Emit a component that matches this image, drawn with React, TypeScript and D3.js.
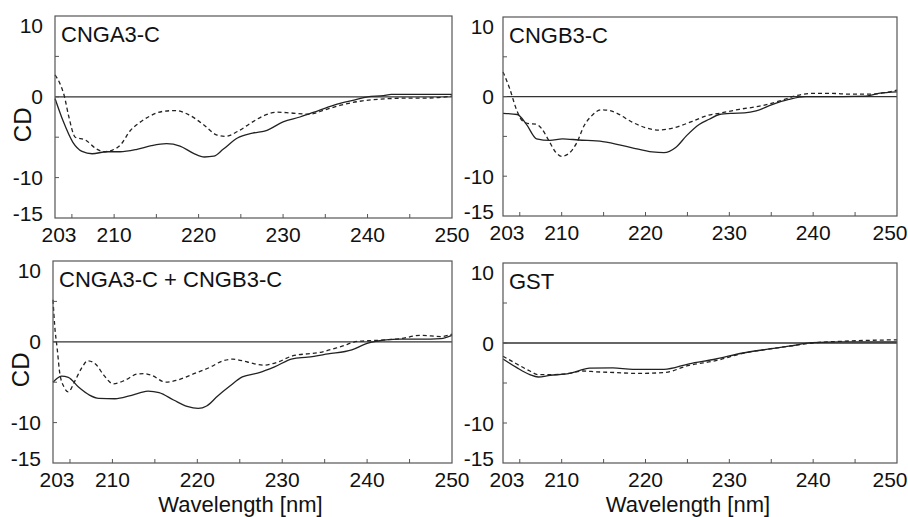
import React from "react";
import * as d3 from "d3";

type Pt = [number, number];

// wavelength [nm], CD
const cnga3Solid: Pt[] = [
  [203, -0.2], [204, -3.1], [205.1, -5.6], [206.2, -6.75], [207.4, -7.05], [209.1, -6.8],
  [210.7, -6.8], [212.7, -6.5], [214.4, -6.05], [216.2, -5.8], [217.8, -6.1], [219.4, -7.0],
  [220.7, -7.45], [221.8, -7.35], [222.9, -6.5], [224.6, -5.1], [226.4, -4.5], [228.1, -4.15],
  [230, -3.1], [232, -2.5], [234.2, -1.7], [236.4, -0.9], [238.4, -0.4], [240, 0],
  [241.9, 0.15], [242.8, 0.3], [246, 0.3], [250, 0.3],
];
const cnga3Dash: Pt[] = [
  [203, 2.7], [203.6, 1.6], [204.1, 0.1], [204.6, -2.3], [205.4, -5.0], [206.6, -5.35],
  [207.9, -6.45], [208.8, -6.8], [209.8, -6.6], [210.8, -5.9], [211.9, -4.2], [213, -3.2],
  [214.2, -2.4], [215.8, -1.8], [217.3, -1.7], [218.8, -2.2], [220.7, -3.55], [222.1, -4.7],
  [223.2, -4.9], [224.6, -4.3], [226.4, -3.1], [227.8, -2.3], [229.3, -1.9], [230.9, -2.0],
  [233.1, -2.15], [235, -1.6], [237, -1.0], [239.4, -0.5], [241.4, -0.3], [244.1, -0.17],
  [247.4, -0.15], [250, 0.1],
];

const cngb3Solid: Pt[] = [
  [203, -2.1], [204.7, -2.25], [205.8, -3.5], [207, -5.3], [208.6, -5.5], [210.1, -5.3],
  [212, -5.45], [214.9, -5.65], [218.3, -6.4], [220.8, -6.95], [222.2, -7.05], [223.6, -6.4],
  [224.9, -4.9], [226.4, -3.5], [227.6, -2.85], [228.8, -2.25], [230.4, -2.1], [231.8, -2.05],
  [233.2, -1.8], [235.1, -1.0], [237.1, -0.35], [239.1, 0], [243.5, 0], [246.3, 0.05],
  [247.8, 0.4], [250, 0.6],
];
const cngb3Dash: Pt[] = [
  [203, 3.1], [203.8, 1.0], [204.6, -1.6], [205.2, -2.9], [206.1, -3.4], [206.9, -3.45],
  [207.6, -4.0], [208.4, -5.4], [209.3, -7.0], [210, -7.5], [210.9, -7.1], [211.8, -5.8],
  [212.7, -3.6], [213.5, -2.5], [214.7, -1.65], [215.7, -1.75], [216.6, -2.1], [218.4, -3.2],
  [220, -3.9], [221.6, -4.2], [223.3, -3.95], [225.6, -3.1], [227.3, -2.4], [228.8, -2.1],
  [231.2, -1.6], [233.6, -1.2], [236, -0.55], [237.9, 0.1], [239.9, 0.4], [242.3, 0.4],
  [244.3, 0.3], [246.7, 0.3], [248.6, 0.5], [250, 0.8],
];

const mixSolid: Pt[] = [
  [203, -5.0], [203.5, -4.5], [204, -4.25], [204.8, -4.4], [206, -5.6], [207.3, -6.6],
  [208.4, -7.0], [210.3, -7.05], [212, -6.7], [213.3, -6.3], [214.2, -6.1], [215.5, -6.3],
  [217.2, -7.2], [218.8, -8.0], [220.1, -8.25], [221.1, -7.95], [222.4, -6.7], [223.8, -5.5],
  [225.3, -4.35], [227.2, -3.85], [229.1, -3.1], [231.2, -2.1], [233, -1.9], [235.4, -1.5],
  [238.2, -1.0], [240.1, -0.15], [241.3, 0.1], [243.6, 0.33], [246.3, 0.33], [248.7, 0.4],
  [250, 0.8],
];
const mixDash: Pt[] = [
  [203, 5.2], [203.2, 2.0], [203.5, -0.9], [203.8, -3.9], [204.3, -5.6], [204.8, -6.2],
  [205.6, -4.8], [206.4, -3.2], [207.1, -2.35], [208, -2.75], [209, -4.15], [210.1, -5.2],
  [211.5, -4.75], [212.9, -4.0], [213.7, -3.95], [214.6, -4.15], [216.3, -5.0], [217.6, -4.75],
  [219.6, -3.95], [221.6, -3.1], [222.9, -2.4], [224.2, -2.15], [225.9, -2.5], [227.8, -2.9],
  [229.5, -2.5], [231.2, -1.75], [234.5, -1.3], [236.9, -0.6], [238.9, 0.05], [241.6, 0.2],
  [244, 0.4], [246.3, 0.8], [248.7, 0.65], [250, 0.95],
];

const gstSolid: Pt[] = [
  [203, -2.0], [204.6, -3.05], [206.2, -3.95], [207.2, -4.25], [208.6, -4.05], [210.9, -3.8],
  [212.1, -3.45], [213.3, -3.15], [216.1, -3.1], [218.5, -3.3], [222.2, -3.3], [225.2, -2.6],
  [228.4, -2.0], [231.6, -1.25], [234.4, -0.8], [237.1, -0.4], [239.9, 0.05], [243.4, 0.15],
  [250, 0.15],
];
const gstDash: Pt[] = [
  [203, -1.65], [204.6, -2.6], [206.2, -3.5], [207.2, -3.95], [208.6, -3.95], [210.9, -3.8],
  [212.5, -3.5], [214.1, -3.6], [216.5, -3.7], [218.9, -3.8], [222.2, -3.7], [225.2, -2.8],
  [228.4, -2.2], [231.6, -1.3], [234.4, -0.8], [237.1, -0.4], [239.9, 0], [244.3, 0.25],
  [250, 0.4],
];

const xTickLabels = [203, 210, 220, 230, 240, 250];
const xTickMarks = [205, 210, 215, 220, 225, 230, 235, 240, 245];
const yTickLabels = [10, 0, -10, -15];
const yTickMarks = [5, 0, -5, -10];

const FONT = "'Liberation Sans', Arial, sans-serif";

type PanelProps = {
  x0: number; x1: number; y0: number; y1: number;
  title: string; solid: Pt[]; dash: Pt[];
  yLabel?: boolean; xLabel?: boolean; labelGap: number; lastShift: number;
};

const Panel = ({ x0, x1, y0, y1, title, solid, dash, yLabel, xLabel, labelGap, lastShift }: PanelProps) => {
  const x = d3.scaleLinear().domain([203, 250]).range([x0, x1]);
  const y = d3.scaleLinear().domain([-15, 10]).range([y1, y0]);
  const line = d3
    .line<Pt>()
    .x((d) => x(d[0]))
    .y((d) => y(d[1]))
    .curve(d3.curveMonotoneX);

  const yShift = (v: number) => (v === 10 ? 9 : v === -15 ? -5 : 0);
  const xShift = (v: number) => (v === 203 ? 4 : v === 250 ? lastShift : 0);

  return (
    <g fontFamily={FONT} fill="#111">
      {/* zero line */}
      <line x1={x0} x2={x1} y1={y(0)} y2={y(0)} stroke="#333" strokeWidth={1.3} />
      <path d={line(solid) ?? ""} fill="none" stroke="#222" strokeWidth={1.3} />
      <path d={line(dash) ?? ""} fill="none" stroke="#222" strokeWidth={1.3} strokeDasharray="4,3" />
      <rect x={x0} y={y0} width={x1 - x0} height={y1 - y0} fill="none" stroke="#555" strokeWidth={1.2} />

      {xTickMarks.map((t) => (
        <line key={"xt" + t} x1={x(t)} x2={x(t)} y1={y1} y2={y1 - 4} stroke="#555" />
      ))}
      {yTickMarks.map((t) => (
        <line key={"yt" + t} x1={x0} x2={x0 + 4} y1={y(t)} y2={y(t)} stroke="#555" />
      ))}

      {xTickLabels.map((t) => (
        <text key={"xl" + t} x={x(t) + xShift(t)} y={y1 + 24} fontSize={21} textAnchor="middle">
          {t}
        </text>
      ))}
      {yTickLabels.map((t) => (
        <text key={"yl" + t} x={x0 - labelGap} y={y(t) + yShift(t)} dy="0.36em" fontSize={21} textAnchor="end">
          {t}
        </text>
      ))}

      <text x={x0 + 6} y={y0 + 26} fontSize={22}>{title}</text>

      {yLabel && (
        <text
          transform={`translate(${x0 - 33},${y(0) + 28}) rotate(-90)`}
          fontSize={24}
          textAnchor="middle"
          dy="0.36em"
        >
          CD
        </text>
      )}
      {xLabel && (
        <text x={(x0 + x1) / 2 - 12} y={y1 + 49} fontSize={22} textAnchor="middle">
          Wavelength [nm]
        </text>
      )}
    </g>
  );
};

export default function App() {
  return (
    <svg
      width={908}
      height={517}
      style={{ position: "absolute", left: 0, top: 0, background: "#fff" }}
    >
      <Panel x0={55} x1={452} y0={16} y1={218} title="CNGA3-C" solid={cnga3Solid} dash={cnga3Dash} yLabel labelGap={12} lastShift={0} />
      <Panel x0={503} x1={897} y0={17} y1={216} title="CNGB3-C" solid={cngb3Solid} dash={cngb3Dash} labelGap={9} lastShift={-7} />
      <Panel x0={53} x1={452} y0={261} y1={463} title="CNGA3-C + CNGB3-C" solid={mixSolid} dash={mixDash} yLabel xLabel labelGap={12} lastShift={0} />
      <Panel x0={503} x1={897} y0={263} y1={463} title="GST" solid={gstSolid} dash={gstDash} xLabel labelGap={9} lastShift={-7} />
    </svg>
  );
}
